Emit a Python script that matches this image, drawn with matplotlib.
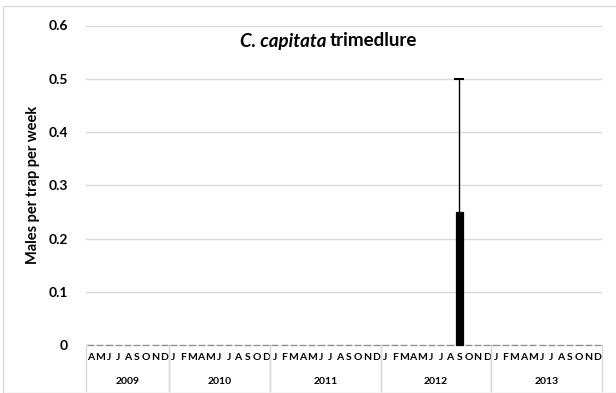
import matplotlib
matplotlib.use("Agg")
import matplotlib.pyplot as plt
from matplotlib.patches import Rectangle
from matplotlib import transforms

plt.rcParams['font.family'] = ['Lato', 'DejaVu Sans']

# Données : mois par année (2009 commence en avril, 2010 sans novembre)
annees = ["2009", "2010", "2011", "2012", "2013"]
mois = [
    ["A", "M", "J", "J", "A", "S", "O", "N", "D"],
    ["J", "F", "M", "A", "M", "J", "J", "A", "S", "O", "D"],
    ["J", "F", "M", "A", "M", "J", "J", "A", "S", "O", "N", "D"],
    ["J", "F", "M", "A", "M", "J", "J", "A", "S", "O", "N", "D"],
    ["J", "F", "M", "A", "M", "J", "J", "A", "S", "O", "N", "D"],
]
valeurs = [
    [0, 0, 0, 0, 0, 0, 0, 0, 0],
    [0, 0, 0, 0, 0, 0, 0, 0, 0, 0, 0],
    [0, 0, 0, 0, 0, 0, 0, 0, 0, 0, 0, 0],
    [0, 0, 0, 0, 0, 0, 0, 0, 0.25, 0, 0, 0],
    [0, 0, 0, 0, 0, 0, 0, 0, 0, 0, 0, 0],
]
erreurs = [
    [0, 0, 0, 0, 0, 0, 0, 0, 0],
    [0, 0, 0, 0, 0, 0, 0, 0, 0, 0, 0],
    [0, 0, 0, 0, 0, 0, 0, 0, 0, 0, 0, 0],
    [0, 0, 0, 0, 0, 0, 0, 0, 0.25, 0, 0, 0],
    [0, 0, 0, 0, 0, 0, 0, 0, 0, 0, 0, 0],
]

labels = [m for groupe in mois for m in groupe]
y = [v for groupe in valeurs for v in groupe]
err = [e for groupe in erreurs for e in groupe]
x = list(range(len(labels)))

W, H = 616, 393
fig = plt.figure(figsize=(W / 100, H / 100), dpi=100)
fig.patches.append(Rectangle((3 / W, 0), 1, 1 - 6 / H, transform=fig.transFigure,
                             fill=False, edgecolor="#d9d9d9", linewidth=1))

ax = fig.add_axes([86 / W, 1 - 345 / H, (602 - 86) / W, (345 - 25.5) / H])
ax.set_xlim(-0.5, len(labels) - 0.5)
ax.set_ylim(0, 0.6)

bords = ["black" if v > 0 else "#8c8c8c" for v in y]
barres = ax.bar(x, y, width=0.78, color="black", edgecolor=bords, linewidth=0.9, zorder=3)
for b in barres:
    b.set_clip_on(False)

err_x = [xi for xi, e in zip(x, err) if e > 0]
err_y = [yi for yi, e in zip(y, err) if e > 0]
err_v = [e for e in err if e > 0]
eb = ax.errorbar(err_x, err_y, yerr=[[0] * len(err_v), err_v], fmt="none",
                 ecolor="black", elinewidth=1, capsize=3.5, capthick=1.5, zorder=4)
eb[1][0].set_visible(False)  # pas de trait en bas

ax.set_yticks([0, 0.1, 0.2, 0.3, 0.4, 0.5, 0.6])
ax.set_yticklabels(["0", "0.1", "0.2", "0.3", "0.4", "0.5", "0.6"],
                   fontsize=10, fontweight="bold")
ax.tick_params(axis="y", length=0, pad=13)
ax.grid(axis="y", color="#d9d9d9", linewidth=1)
ax.set_axisbelow(True)

ax.set_xticks(x)
ax.set_xticklabels(labels, fontsize=7.5, fontweight="bold")
ax.tick_params(axis="x", length=0, pad=6)

for s in ax.spines.values():
    s.set_visible(False)

# séparateurs d'années et libellés
trans = transforms.blended_transform_factory(ax.transData, ax.transAxes)
debut = -0.5
for annee, groupe in zip(annees, mois):
    fin = debut + len(groupe)
    ax.text((debut + fin) / 2, -36 / 319.5, annee, transform=trans,
            ha="center", va="center", fontsize=7.5, fontweight="bold")
    for bx in (debut, fin):
        ax.plot([bx, bx], [0, -46 / 319.5], transform=trans, color="#d9d9d9",
                linewidth=1, clip_on=False)
    debut = fin

ax.set_ylabel("Males per trap per week", fontsize=10.5, fontweight="bold", labelpad=6)

fig.text(326 / W, 1 - 41 / H, "C. capitata", ha="right", va="center",
         fontsize=13.5, fontweight="bold", fontstyle="italic")
fig.text(330 / W, 1 - 41 / H, "trimedlure", ha="left", va="center",
         fontsize=13.5, fontweight="bold")

fig.savefig("out.png", dpi=100)
